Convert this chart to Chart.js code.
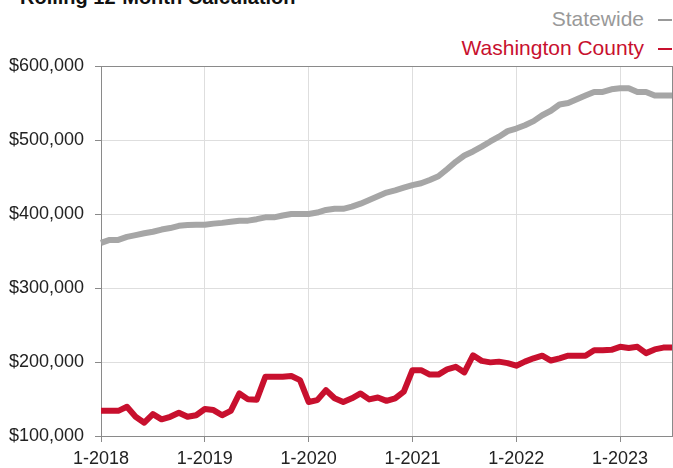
<!DOCTYPE html>
<html>
<head>
<meta charset="utf-8">
<script src="https://cdn.jsdelivr.net/npm/chart.js@4"></script>
<style>
  body { margin: 0; background: #fff; font-family: "Liberation Sans", Arial, sans-serif; }
  #wrap { position: relative; width: 673px; height: 468px; overflow: hidden; }
  #title { position: absolute; left: 20px; top: -13px; font-size: 20px; font-weight: bold; color: #111; line-height: 20px; white-space: nowrap; }
  .leg { position: absolute; right: 1px; font-size: 21px; line-height: 24px; white-space: nowrap; }
  .leg i { display: inline-block; width: 14px; height: 2px; margin-left: 14px; vertical-align: middle; }
  #leg1 { top: 7px; color: #999; }
  #leg1 i { background: #999; }
  #leg2 { top: 36px; color: #c8102e; }
  #leg2 i { background: #c8102e; }
  canvas { position: absolute; left: 0; top: 0; }
</style>
</head>
<body>
<div id="wrap">
  <div id="title">Rolling 12-Month Calculation</div>
  <div class="leg" id="leg1">Statewide<i></i></div>
  <div class="leg" id="leg2">Washington County<i></i></div>
  <canvas id="chart" width="673" height="468"></canvas>
</div>
<script>
// Monthly labels, Jan 2018 - Jul 2023
const years = [2018, 2019, 2020, 2021, 2022, 2023];
const months = [];
years.forEach(y => {
    for (let m = 1; m <= 12; m++) {
        if (y === 2023 && m > 7) break;
        months.push(m + '-' + y);
    }
});

// Median sales price, rolling 12 months
const statewide = [
    361000, 365000, 365000, 369000, 371500, 374000, 376000, 379000, 381000, 384000, 385000, 385500,
    385500, 387000, 388000, 389500, 391000, 391000, 393000, 395500, 395500, 398000, 400000, 400000,
    400000, 402000, 405500, 407000, 407000, 410000, 414000, 419000, 424000, 429000, 432000, 435500,
    439000, 441500, 446000, 451000, 460500, 470500, 479000, 484500, 491000, 498000, 504500, 512000,
    515500, 520000, 525500, 533500, 539500, 548000, 550000, 555000, 560000, 565000, 565000, 568500,
    570000, 570000, 565000, 565000, 560000, 560000, 560000
];
const washington = [
    134000, 134000, 134000, 139500, 126000, 118000, 129500, 122500, 126000, 131500, 126000, 128000,
    136500, 135000, 128000, 134000, 157500, 149500, 149000, 180000, 180000, 180000, 181000, 175500,
    146000, 148500, 162000, 151000, 146000, 151000, 157500, 149500, 152000, 147500, 151000, 160000,
    189000, 189000, 183000, 183000, 190000, 193500, 186000, 209000, 201500, 199500, 200500, 198500,
    195000, 200500, 205000, 208500, 202000, 205000, 208500, 208500, 208500, 216000, 216000, 216500,
    220500, 219000, 220500, 212000, 217000, 219500, 219500
];

const yTicks = [100000, 200000, 300000, 400000, 500000, 600000];

const axisGray = '#8a8a8a';
const gridGray = '#dedede';

const ctx = document.getElementById('chart').getContext('2d');
const chart = new Chart(ctx, {
    type: 'line',
    data: {
        labels: months,
        datasets: [{
            label: 'Statewide',
            data: statewide,
            borderColor: '#a6a6a6',
            borderWidth: 6,
            pointRadius: 0,
            borderJoinStyle: 'round',
            tension: 0
        }, {
            label: 'Washington County',
            data: washington,
            borderColor: '#c8102e',
            borderWidth: 6,
            pointRadius: 0,
            borderJoinStyle: 'round',
            tension: 0
        }]
    },
    options: {
        responsive: false,
        animation: false,
        layout: { padding: { top: 66, right: 1, left: 0, bottom: 0 } },
        plugins: { legend: { display: false }, tooltip: { enabled: false } },
        scales: {
            x: {
                offset: false,
                afterFit: s => { s.height = 32; },
                border: { color: axisGray, width: 1 },
                grid: {
                    color: c => (c.index === 66 ? axisGray : (c.index % 12 === 0 ? gridGray : 'transparent')),
                    tickColor: c => (c.index % 12 === 0 ? axisGray : 'transparent'),
                    tickLength: 6
                },
                ticks: {
                    autoSkip: false,
                    maxRotation: 0,
                    padding: 1,
                    color: '#222',
                    font: { family: '"Liberation Sans", Arial, sans-serif', size: 18, lineHeight: 1.75 },
                    callback: (v, i) => (i % 12 === 0 ? months[i] : '')
                }
            },
            y: {
                min: yTicks[0],
                max: yTicks[yTicks.length - 1],
                afterFit: s => { s.width = 101; },
                afterBuildTicks: s => { s.ticks = yTicks.map(v => ({ value: v })); },
                border: { color: axisGray, width: 1 },
                grid: {
                    color: c => (c.tick && c.tick.value === 600000 ? axisGray : gridGray),
                    tickColor: axisGray,
                    tickLength: 6
                },
                ticks: {
                    padding: 11,
                    color: '#222',
                    font: { family: '"Liberation Sans", Arial, sans-serif', size: 18 },
                    callback: v => '$' + v.toLocaleString('en-US')
                }
            }
        }
    }
});
</script>
</body>
</html>
